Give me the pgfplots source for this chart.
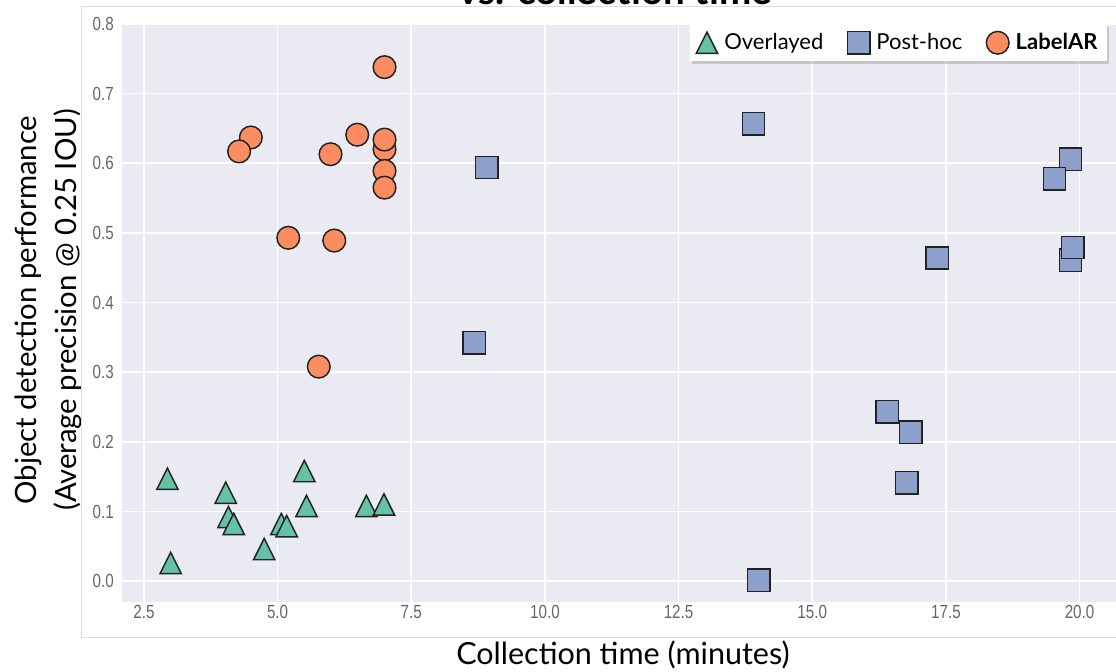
\documentclass[border=0pt]{standalone}
\usepackage{fontspec}
\setmainfont{Lato}
\newfontfamily\tickfont[FakeStretch=0.8]{Liberation Sans}
\usepackage{pgfplots}
\usepackage{pgfplotstable}
\pgfplotsset{compat=1.18}
\usetikzlibrary{shadows}
\definecolor{bg}{HTML}{EAEAF2}
\definecolor{cgreen}{HTML}{66C2A5}
\definecolor{cblue}{HTML}{8DA0CB}
\definecolor{corange}{HTML}{FC8D62}
\definecolor{edgec}{HTML}{222222}
\definecolor{tickc}{HTML}{666666}
\definecolor{framec}{HTML}{DDDDDD}
\pgfdeclareplotmark{mtri}{%
  \pgfpathmoveto{\pgfqpoint{0pt}{\pgfplotmarksize}}%
  \pgfpathlineto{\pgfqpoint{-\pgfplotmarksize}{-\pgfplotmarksize}}%
  \pgfpathlineto{\pgfqpoint{\pgfplotmarksize}{-\pgfplotmarksize}}%
  \pgfpathclose\pgfusepathqfillstroke}

\pgfplotstableread{
x y
2.94 0.147
3.00 0.026
4.03 0.127
4.08 0.092
4.18 0.082
4.75 0.046
5.07 0.082
5.17 0.079
5.50 0.158
5.54 0.108
6.66 0.108
6.99 0.110
}\overlayed

\pgfplotstableread{
x y
13.90 0.657
8.91 0.594
8.68 0.342
19.83 0.606
19.53 0.578
17.34 0.464
19.83 0.461
19.87 0.479
16.40 0.243
16.84 0.214
16.77 0.141
14.00 0.001
}\posthoc

\pgfplotstableread{
x y
7.00 0.738
4.50 0.637
4.28 0.617
5.99 0.613
6.49 0.641
7.00 0.620
7.00 0.634
7.00 0.589
7.00 0.565
5.20 0.493
6.06 0.489
5.77 0.308
}\labelar

\begin{document}
\begin{tikzpicture}
\begin{axis}[
  at={(0,0)}, anchor=south west,
  scale only axis, width=746.25pt, height=433.3pt,
  xmin=2.09, xmax=20.7, ymin=-0.0296, ymax=0.8,
  axis background/.style={fill=bg},
  axis line style={draw=none},
  grid=major, major grid style={white, line width=1.2pt},
  major tick length=0pt,
  xtick={2.5,5,7.5,10,12.5,15,17.5,20},
  xticklabels={2.5,5.0,7.5,10.0,12.5,15.0,17.5,20.0},
  ytick={0,0.1,0.2,0.3,0.4,0.5,0.6,0.7,0.8},
  yticklabels={0.0,0.1,0.2,0.3,0.4,0.5,0.6,0.7,0.8},
  /pgf/number format/assume math mode=true,
  ticklabel style={font=\tickfont\fontsize{14.25}{16}\selectfont, text=tickc, inner sep=0pt},
  xticklabel style={yshift=-2.5pt},
  yticklabel style={xshift=-6pt},
  xlabel={Collection time (minutes)},
  xlabel style={at={(axis description cs:0.5035,-0.0923)}, anchor=center, font=\fontsize{22.9}{26}\selectfont},
  ylabel={Object detection performance\\(Average precision @ 0.25 IOU)},
  ylabel style={at={(axis description cs:-0.0744,0.505)}, anchor=center, align=center, font=\fontsize{22}{30}\selectfont},
  legend columns=3,
  legend style={at={(0.99,1)}, anchor=north east, fill=white, draw=none,
    drop shadow={shadow xshift=2pt, shadow yshift=-2pt, opacity=0.35},
    font=\fontsize{16.5}{19}\selectfont, inner xsep=5pt, inner ysep=5pt,
    /tikz/every odd column/.append style={column sep=3pt},
    /tikz/every even column/.append style={column sep=16pt}},
  legend image code/.code={\draw[#1] plot coordinates {(0pt,0pt)};},
]
\addplot[only marks, mark=mtri, mark size=8pt, mark options={fill=cgreen, draw=edgec, line width=1.1pt}] table[x=x,y=y] {\overlayed};
\addlegendentry{Overlayed}
\addplot[only marks, mark=square*, mark size=8.4pt, mark options={fill=cblue, draw=edgec, line width=1.1pt}] table[x=x,y=y] {\posthoc};
\addlegendentry{Post-hoc}
\addplot[only marks, mark=*, mark size=8.5pt, mark options={fill=corange, draw=edgec, line width=1.1pt}] table[x=x,y=y] {\labelar};
\addlegendentry{\textbf{LabelAR}}
\end{axis}
\draw[framec, line width=0.75pt] (-30pt,-26.5pt) rectangle (760pt,446.5pt);
\node[anchor=base, font=\bfseries\fontsize{29}{32}\selectfont] at (370pt,448pt) {vs. collection time};
\pgfresetboundingbox
\useasboundingbox (-91.5pt,-52pt) rectangle (745.5pt,451.3pt);
\end{tikzpicture}
\end{document}
